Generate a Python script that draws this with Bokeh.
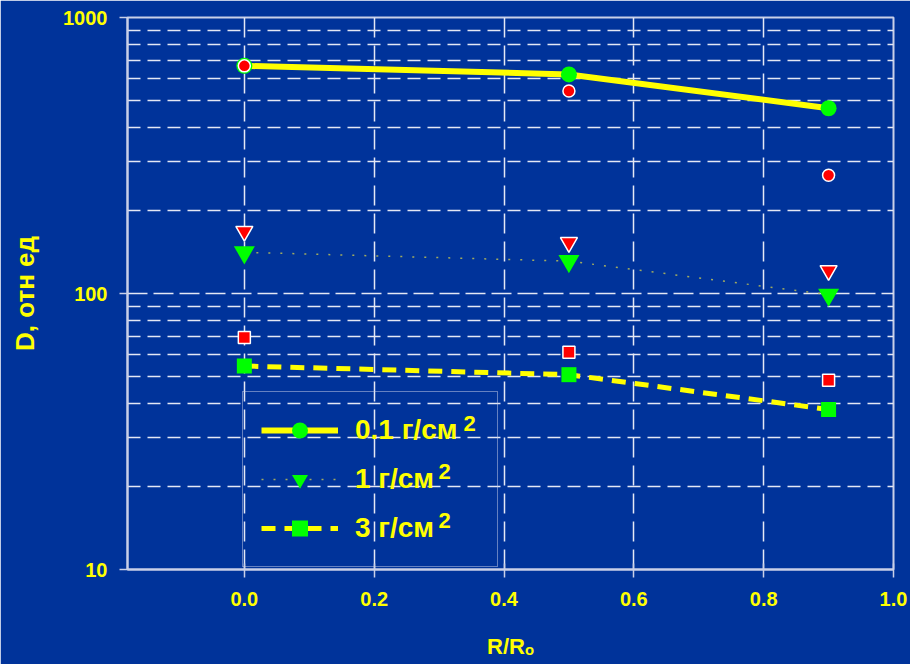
from bokeh.plotting import figure
from bokeh.models import (Range1d, FixedTicker, PrintfTickFormatter, Legend,
                          LegendItem, Label)
from bokeh.embed import file_html
from bokeh.resources import INLINE

# Relative radius R/Ro
r_pos = [0.0, 0.5, 0.9]

# Dose D (relative units), measured (green markers) and calculated (red markers)
dose_01 = [668, 622, 469]
dose_01_calc = [668, 542, 268]
dose_1 = [141, 131, 99]
dose_1_calc = [168, 153, 121]
dose_3 = [54.6, 50.8, 38.0]
dose_3_calc = [69.3, 61.2, 48.5]

series_labels = ["0.1 г/см", "1 г/см", "3 г/см"]

x_ticks = [0.0, 0.2, 0.4, 0.6, 0.8, 1.0]
y_ticks = [10, 100, 1000]
y_minor = [20, 30, 40, 50, 60, 70, 80, 90, 200, 300, 400, 500, 600, 700, 800, 900]

BG = "#00339a"
GRID = "#e4e8f5"
AXIS = "#c9d0e8"
YELLOW = "#ffff00"
GREEN = "#00ff00"
RED = "#ff0000"
FONT = "Liberation Sans"

p = figure(width=910, height=664,
           x_range=Range1d(-0.18, 1.0), y_range=Range1d(10, 1000),
           y_axis_type="log",
           output_backend="svg", toolbar_location=None,
           min_border_left=127, min_border_right=17,
           min_border_top=17, min_border_bottom=95,
           background_fill_color=BG, border_fill_color=BG,
           outline_line_color=AXIS, outline_line_width=2)

# axes
for ax in (p.xaxis[0], p.yaxis[0]):
    ax.axis_line_color = AXIS
    ax.axis_line_width = 2
    ax.major_tick_line_color = AXIS
    ax.major_tick_line_width = 1.5
    ax.minor_tick_line_color = None
    ax.major_label_text_font = FONT
    ax.major_label_text_font_style = "bold"
    ax.major_label_text_font_size = "20px"
    ax.major_label_text_color = YELLOW
    ax.axis_label_text_font = FONT
    ax.axis_label_text_font_style = "bold"
    ax.axis_label_text_color = YELLOW

p.xaxis.ticker = FixedTicker(ticks=x_ticks)
p.xaxis.formatter = PrintfTickFormatter(format="%.1f")
p.xaxis.major_tick_in = 6
p.xaxis.major_tick_out = 8
p.xaxis.major_label_standoff = 14
p.xaxis.axis_label = "R/Rₒ"
p.xaxis.axis_label_text_font_size = "22px"
p.xaxis.axis_label_standoff = 25

p.yaxis.ticker = FixedTicker(ticks=y_ticks, minor_ticks=y_minor)
p.yaxis.formatter = PrintfTickFormatter(format="%d")
p.yaxis.major_tick_in = 0
p.yaxis.major_tick_out = 8
p.yaxis.major_label_standoff = 12
p.yaxis.axis_label = "D, отн ед"
p.yaxis.axis_label_text_font_size = "26px"
p.yaxis.axis_label_standoff = 20

# dashed grid
p.xgrid.grid_line_color = GRID
p.xgrid.grid_line_width = 1.5
p.xgrid.grid_line_dash = "20 8"
p.ygrid.grid_line_color = GRID
p.ygrid.grid_line_width = 1.5
p.ygrid.grid_line_dash = "20 6"
p.ygrid.minor_grid_line_color = GRID
p.ygrid.minor_grid_line_width = 1.5
p.ygrid.minor_grid_line_dash = "13 7"

# measured series: lines with green markers
l1 = p.line(r_pos, dose_01, line_color=YELLOW, line_width=6)
m1 = p.scatter(r_pos, dose_01, marker="circle", size=16,
               fill_color=GREEN, line_color=None)
l2 = p.line(r_pos, dose_1, line_color="#c8c850", line_width=1.5,
            line_dash="2 10", line_alpha=0.8)
m2 = p.scatter(r_pos, dose_1, marker="inverted_triangle", size=21,
               fill_color=GREEN, line_color=None)
l3 = p.line(r_pos, dose_3, line_color=YELLOW, line_width=5, line_dash="14 9")
m3 = p.scatter(r_pos, dose_3, marker="square", size=15,
               fill_color=GREEN, line_color=None)

# calculated values: small red markers with white edges
p.scatter(r_pos, dose_01_calc, marker="circle", size=12,
          fill_color=RED, line_color="white", line_width=1.5)
p.scatter(r_pos, dose_1_calc, marker="inverted_triangle", size=17,
          fill_color=RED, line_color="white", line_width=1.5)
p.scatter(r_pos, dose_3_calc, marker="square", size=12,
          fill_color=RED, line_color="white", line_width=1.5)

legend = Legend(items=[LegendItem(label=series_labels[0], renderers=[l1, m1]),
                       LegendItem(label=series_labels[1], renderers=[l2, m2]),
                       LegendItem(label=series_labels[2], renderers=[l3, m3])],
                location=(115, 2),
                label_text_font=FONT, label_text_font_style="bold",
                label_text_font_size="28px", label_text_color=YELLOW,
                glyph_width=77, glyph_height=40, label_height=40,
                label_width=124,
                label_standoff=17, spacing=9, padding=18, margin=0,
                border_line_color=AXIS, border_line_width=1.5,
                background_fill_alpha=0)
p.add_layout(legend)

# superscript "2" after each unit label
for sx, sy in [(336, 146), (311, 98), (311, 49)]:
    p.add_layout(Label(x=sx, y=sy, x_units="screen", y_units="screen",
                       text="2", text_font=FONT, text_font_style="bold",
                       text_font_size="22px", text_color=YELLOW,
                       text_baseline="alphabetic"))

open("out.html", "w").write(file_html(p, INLINE))
